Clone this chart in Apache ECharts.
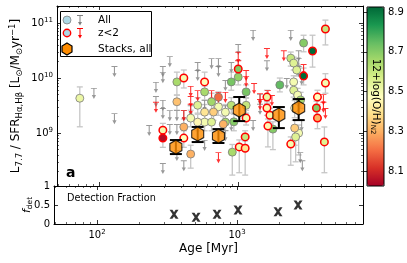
<!DOCTYPE html>
<html><head><meta charset="utf-8">
<script src="https://cdn.jsdelivr.net/npm/echarts@6/dist/echarts.min.js"></script>
<style>html,body{margin:0;padding:0;background:#fff}#c{width:407px;height:263px}</style>
</head><body><div id="c"></div>
<script>
const FONT = 'DejaVu Sans';
const X_RANGE = [49.3, 7940];
const Y_RANGE = [1.09e8, 2.04e11];
const Z_RANGE = [8.025, 8.925];
const fracTicks = [0, 0.5, 1];
const cbarTicks = [8.1, 8.3, 8.5, 8.7, 8.9];
const cmapRdYlGn = ['#a50026','#d73027','#f46d43','#fdae61','#fee08b','#ffffbf','#d9ef8b','#a6d96a','#66bd63','#1a9850','#006837'];

// upper limits, all galaxies: [age Myr, L7.7/SFR]
const limitsAll = [
 [91,6.6e9],[128,1.65e10],[128,2.3e9],[228,1.4e9],[255,8.5e9],[255,4.7e9],[286,1.65e10],[286,1.28e10],
 [286,4.0e9],[286,2.85e9],[286,2.85e8],[321,2.5e10],[321,2.6e9],[361,2.6e9],[405,2.6e9],[510,1.95e10],
 [510,1.4e10],[572,4.0e9],[642,2.3e10],[720,2.3e10],[720,1.65e10],[808,9.2e9],[891,1.95e10],[1000,4.15e10],
 [1280,7.5e10],[1280,1.72e9],[1436,5.1e9],[1611,2.1e10],[2392,7.5e10],[2728,3.2e10],[2728,2.3e10],[2728,1.65e10],
 [2866,1.18e10],[2239,1.0e10],[361,1.46e9],[321,1.46e9],[454,3.2e9],[808,3.2e9],[361,4.9e8],[405,3.2e8],
 [572,7.5e8],[808,1.13e9],[891,1.72e9],[1436,3.4e9],[2866,1.72e9],[2800,4.5e8],[2900,3.2e8]
];
// upper limits, z<2
const limitsZ2 = [
 [255,3.7e9],[454,7.2e9],[454,4.7e9],[510,6.0e9],[642,6.0e9],[1000,3.0e10],[1000,2.1e10],[1140,1.4e10],
 [1140,1.09e10],[1301,8.1e9],[1436,5.3e9],[1436,4.15e9],[1611,3.5e10],[1637,6.0e9],[1749,4.9e9],[2132,3.2e10],
 [720,5.6e9],[808,5.6e9],[2960,1.8e10],[4115,5.1e9],[4115,3.7e9],[720,4.5e8],[4254,2.85e9],[405,2.6e9],[454,3.4e9]
];
// detections: [age, L7.7/SFR, 12+log(O/H), err low, err high]
const pointsAll = [
 [72,4.3e9,8.52,1.3e9,6.9e9],[361,8.5e9,8.65,4.9e9,1.28e10],[572,5.6e9,8.65,4.0e9,7.2e9],[361,3.7e9,8.33,2.6e9,4.9e9],
 [642,3.7e9,8.66,2.6e9,5.3e9],[720,4.5e9,8.2,3.4e9,5.6e9],[720,3.0e9,8.5,2.1e9,4.0e9],[891,8.5e9,8.72,6.0e9,1.28e10],
 [1000,1.04e10,8.68,7.5e9,1.4e10],[1140,5.6e9,8.72,4.3e9,7.5e9],[2960,4.33e10,8.7,3.0e10,6.0e10],[2392,2.3e10,8.6,1.65e10,2.97e10],
 [2512,1.87e10,8.55,1.4e10,2.4e10],[2640,1.4e10,8.55,1.09e10,1.8e10],[1995,7.5e9,8.75,5.6e9,1.0e10],[2512,8.5e9,8.5,6.3e9,1.1e10],
 [2512,6.0e9,8.55,4.5e9,8.0e9],[2683,4.9e9,8.5,3.4e9,6.5e9],[2818,4.0e9,8.65,2.8e9,5.5e9],[2553,2.85e9,8.45,1.9e9,3.9e9],
 [405,1.29e9,8.3,8.0e8,1.8e9],[454,4.15e8,8.3,2.3e8,6.0e8],[572,1.58e9,8.5,1.1e9,2.2e9],[642,1.58e9,8.55,1.1e9,2.2e9],
 [663,2.41e9,8.35,1.7e9,3.3e9],[906,4.5e8,8.65,1.72e8,6.2e8],[1778,1.18e9,8.7,5.0e8,1.6e9],[2728,1.0e9,8.5,4.0e8,1.4e9],
 [2594,8.5e8,8.55,3.0e8,1.2e9],[2553,1.23e9,8.35,6.0e8,1.7e9],[454,1.87e9,8.5,1.3e9,2.6e9],[510,1.58e9,8.45,1.1e9,2.2e9],
 [808,2.4e9,8.5,1.7e9,3.3e9],[891,3.2e9,8.62,2.3e9,4.4e9],[808,1.58e9,8.65,1.1e9,2.2e9],[1140,3.2e9,8.6,2.3e9,4.4e9],
 [510,3.2e9,8.55,2.3e9,4.4e9],[572,2.4e9,8.4,1.7e9,3.3e9],[780,1.45e9,8.3,1.0e9,2.0e9],[930,1.6e9,8.7,1.1e9,2.2e9]
];
const pointsZ2 = [
 [405,1.0e10,8.5,6.6e9,1.4e10],[572,8.5e9,8.48,5.6e9,1.28e10],[1000,1.46e10,8.7,1.0e10,2.1e10],[1140,1.87e9,8.5,1.4e9,2.6e9],
 [1611,4.5e9,8.52,3.4e9,6.0e9],[1611,2.85e9,8.45,2.1e9,3.7e9],[3434,3.1e10,8.92,1.58e10,6.0e10],[4254,7.8e10,8.6,4.0e10,1.13e11],
 [2960,1.09e10,8.92,7.5e9,1.52e10],[4254,8.1e9,8.5,5.3e9,1.2e10],[3727,4.5e9,8.47,3.3e9,6.0e9],[3664,2.85e9,8.7,2.1e9,3.8e9],
 [3727,1.87e9,8.3,1.2e9,2.5e9],[286,1.13e9,8.5,8.0e8,1.5e9],[286,8.1e8,8.05,5.5e8,1.1e9],[405,8.1e8,8.48,5.5e8,1.1e9],
 [1017,5.6e8,8.5,1.9e8,7.5e8],[1122,5.3e8,8.4,1.72e8,7.2e8],[1122,8.5e8,8.6,6.0e8,1.1e9],[1637,1.34e9,8.45,5.6e8,1.8e9],
 [1693,2.1e9,8.5,1.5e9,2.8e9],[2392,6.3e8,8.5,2.6e8,8.5e8],[4182,6.9e8,8.55,1.9e8,1.29e9]
];
// stacks
const stackAge = [355, 510, 720, 1017, 1963, 2728];
const stackVal = [5.56e8, 9.6e8, 8.8e8, 2.62e9, 2.13e9, 2.85e9];
const stackLo  = [4.15e8, 6.86e8, 6.6e8, 1.65e9, 1.23e9, 1.72e9];
const stackHi  = [7.46e8, 1.29e9, 1.18e9, 4.52e9, 2.97e9, 4.15e9];
// detection fraction
const detAge  = [355, 510, 720, 1017, 1963, 2728];
const detFrac = [0.255, 0.176, 0.255, 0.368, 0.32, 0.5];

const ARROW = 'path://M0,0 L10,0 L10,1.6 L5.9,1.6 L5.9,13 L8.5,13 L5,20 L1.5,13 L4.1,13 L4.1,1.6 L0,1.6 Z';
const HEX = 'path://M0,-10 L8.66,-5 L8.66,5 L0,10 L-8.66,5 L-8.66,-5 Z';
const XMARK = 'path://M0,0 L3.2,0 L5,2.6 L6.8,0 L10,0 L6.6,5 L10,10 L6.8,10 L5,7.4 L3.2,10 L0,10 L3.4,5 Z';

function errRender(color, width, cap) {
  return function (params, api) {
    const x = api.value(0), lo = api.value(1), hi = api.value(2);
    const a = api.coord([x, lo]), b = api.coord([x, hi]);
    const st = {stroke: color, lineWidth: width, fill: null};
    return {type: 'group', children: [
      {type: 'line', shape: {x1: a[0], y1: a[1], x2: b[0], y2: b[1]}, style: st},
      {type: 'line', shape: {x1: a[0]-cap, y1: a[1], x2: a[0]+cap, y2: a[1]}, style: st},
      {type: 'line', shape: {x1: b[0]-cap, y1: b[1], x2: b[0]+cap, y2: b[1]}, style: st}
    ]};
  };
}
const supRich = {sup: {fontSize: 7, verticalAlign: 'top', lineHeight: 7, fontFamily: FONT, color: '#000'}};
function powLabel(v) {
  const e = Math.log10(v);
  if (Math.abs(e - Math.round(e)) > 1e-6) return '';
  return '10{sup|' + Math.round(e) + '}';
}
const tickStyle = {show: true, inside: true, length: 4, lineStyle: {color: '#000', width: 0.8}};
const minorStyle = {show: true, splitNumber: 9, length: 2, lineStyle: {color: '#000', width: 0.6}};
const lineStyle = {show: true, onZero: false, lineStyle: {color: '#000', width: 1}};
function logAxis(gridIndex, position, range, label) {
  return {type: 'log', logBase: 10, gridIndex, position, min: range[0], max: range[1],
    axisLine: lineStyle, axisTick: tickStyle, minorTick: minorStyle,
    splitLine: {show: false}, minorSplitLine: {show: false},
    axisLabel: label ? Object.assign({show: true, formatter: powLabel, color: '#000', fontSize: 10,
      fontFamily: FONT, lineHeight: 13, rich: supRich}, label) : {show: false}};
}

const xAxes = [
  logAxis(0, 'bottom', X_RANGE, null),
  logAxis(0, 'top', X_RANGE, null),
  Object.assign(logAxis(1, 'bottom', X_RANGE, {margin: 5}), {name: 'Age [Myr]', nameLocation: 'middle', nameGap: 19,
    nameMoveOverlap: false,
    nameTextStyle: {fontSize: 12, fontFamily: FONT, color: '#000'}}),
  logAxis(1, 'top', X_RANGE, null),
  {type: 'value', gridIndex: 2, show: false, min: 0, max: 1}
];
const yAxes = [
  Object.assign(logAxis(0, 'left', Y_RANGE, {margin: 4}), {
    name: 'L{sub|7.7} / SFR{sub|Hα,Hβ} [L{sub|⊙}/M{sub|⊙}yr{sup|−1}]', nameLocation: 'middle', nameGap: 33,
    nameMoveOverlap: false,
    nameTextStyle: {fontSize: 12, fontFamily: FONT, color: '#000', lineHeight: 16, rich: {
      sub: {fontSize: 8.5, verticalAlign: 'bottom', lineHeight: 9, fontFamily: FONT, color: '#000'},
      sup: {fontSize: 8.5, verticalAlign: 'top', lineHeight: 9, fontFamily: FONT, color: '#000'}}}}),
  logAxis(0, 'right', Y_RANGE, null),
  {type: 'value', gridIndex: 1, position: 'left', min: 0, max: 1, interval: 0.5,
    axisLine: lineStyle, axisTick: tickStyle, splitLine: {show: false},
    axisLabel: {show: true, margin: 4, fontSize: 10, fontFamily: FONT, color: '#000', showMinLabel: true, showMaxLabel: true},
    name: '{i|f}{sub|det}', nameLocation: 'middle', nameGap: 20, nameMoveOverlap: false,
    nameTextStyle: {fontSize: 11, fontFamily: FONT, color: '#000', lineHeight: 14, rich: {
      i: {fontSize: 11, fontStyle: 'italic', fontFamily: FONT, color: '#000'},
      sub: {fontSize: 7.5, verticalAlign: 'bottom', lineHeight: 8, fontFamily: FONT, color: '#000'}}}},
  {type: 'value', gridIndex: 1, position: 'right', min: 0, max: 1, interval: 0.5,
    axisLine: lineStyle, axisTick: tickStyle, splitLine: {show: false}, axisLabel: {show: false}},
  {type: 'value', gridIndex: 2, position: 'right', min: Z_RANGE[0], max: Z_RANGE[1], z: 20,
    axisLine: {show: false}, splitLine: {show: false},
    axisTick: {show: true, inside: true, length: 3, customValues: cbarTicks, lineStyle: {color: '#000', width: 0.8}},
    axisLabel: {show: true, customValues: cbarTicks, margin: 4, fontSize: 10, fontFamily: FONT, color: '#000',
      align: 'left', verticalAlign: 'middle', formatter: v => Number(v).toFixed(1)},
    name: '12+log(O/H){sub|N2}', nameLocation: 'middle', nameGap: -15, nameRotate: -90, nameMoveOverlap: false,
    nameTextStyle: {fontSize: 10.5, fontFamily: FONT, color: '#000', lineHeight: 13, rich: {
      sub: {fontSize: 7, verticalAlign: 'bottom', lineHeight: 7, fontFamily: FONT, color: '#000'}}}}
];

function legendArrow(cx, top, color) {
  return [
    {type: 'line', shape: {x1: cx-3, y1: top, x2: cx+3, y2: top}, style: {stroke: color, lineWidth: 1}, z: 101},
    {type: 'line', shape: {x1: cx, y1: top, x2: cx, y2: top+7}, style: {stroke: color, lineWidth: 1}, z: 101},
    {type: 'polygon', shape: {points: [[cx-2, top+6.5], [cx+2, top+6.5], [cx, top+10]]}, style: {fill: color}, z: 101}
  ];
}
const txt = (x, y, s, extra) => ({type: 'text', x, y, z: 101,
  style: Object.assign({text: s, fontSize: 10, fontFamily: FONT, fill: '#000', verticalAlign: 'middle'}, extra || {})});

const graphic = [
  {type: 'rect', shape: {x: 60.5, y: 11.5, width: 91, height: 45}, style: {fill: '#fff', stroke: '#000', lineWidth: 1}, z: 100},
  {type: 'circle', shape: {cx: 67, cy: 20, r: 4}, style: {fill: '#add8e6', stroke: '#808080', lineWidth: 0.8}, z: 101},
  ...legendArrow(80, 15.5, '#808080'),
  txt(98, 20.5, 'All', {fontSize: 10.5}),
  {type: 'circle', shape: {cx: 67, cy: 33, r: 3.7}, style: {fill: '#add8e6', stroke: '#ff0000', lineWidth: 1.4}, z: 101},
  ...legendArrow(80, 28.5, '#ff0000'),
  txt(98, 33, 'z<2', {fontSize: 10.5}),
  {type: 'polygon', shape: {points: [[67,43],[72,46],[72,52],[67,55],[62,52],[62,46]]},
    style: {fill: '#ff8c00', stroke: '#000', lineWidth: 1.2}, z: 101},
  txt(98, 49, 'Stacks, all', {fontSize: 10.5}),
  txt(66, 173, 'a', {fontSize: 14, fontWeight: 'bold'}),
  txt(67, 198, 'Detection Fraction', {fontSize: 9.7})
];

const option = {
  animation: false,
  textStyle: {fontFamily: FONT},
  grid: [
    {left: 54, top: 6, width: 309, height: 180},
    {left: 54, top: 186, width: 309, height: 38},
    {left: 367, top: 7, width: 17, height: 179, show: true, borderColor: '#000', borderWidth: 1, z: 10, backgroundColor: 'transparent'}
  ],
  xAxis: xAxes,
  yAxis: yAxes,
  visualMap: {type: 'continuous', min: Z_RANGE[0], max: Z_RANGE[1], dimension: 2, seriesIndex: [4, 5],
    inRange: {color: cmapRdYlGn}, calculable: false, hoverLink: false, left: 367, top: 7, z: 2,
    itemWidth: 17, itemHeight: 179, padding: 0, text: null, show: true},
  graphic: graphic,
  series: [
    {type: 'custom', xAxisIndex: 0, yAxisIndex: 0, renderItem: errRender('#c6c6c6', 1.3, 3), z: 1, silent: true,
      encode: {x: 0, y: [1, 2]}, data: pointsAll.map(p => [p[0], p[3], p[4]]), clip: true},
    {type: 'custom', xAxisIndex: 0, yAxisIndex: 0, renderItem: errRender('#c6c6c6', 1.3, 3), z: 1, silent: true,
      encode: {x: 0, y: [1, 2]}, data: pointsZ2.map(p => [p[0], p[3], p[4]]), clip: true},
    {type: 'scatter', xAxisIndex: 0, yAxisIndex: 0, symbol: ARROW, symbolSize: [6, 11], symbolOffset: [0, '50%'],
      itemStyle: {color: '#808080'}, z: 2, silent: true, data: limitsAll},
    {type: 'scatter', xAxisIndex: 0, yAxisIndex: 0, symbol: ARROW, symbolSize: [6, 11], symbolOffset: [0, '50%'],
      itemStyle: {color: '#ff0000'}, z: 2, silent: true, data: limitsZ2},
    {type: 'scatter', xAxisIndex: 0, yAxisIndex: 0, symbol: 'circle', symbolSize: 8,
      itemStyle: {borderColor: '#7a7a7a', borderWidth: 0.8, opacity: 1}, z: 3, silent: true,
      data: pointsAll.map(p => [p[0], p[1], p[2]])},
    {type: 'scatter', xAxisIndex: 0, yAxisIndex: 0, symbol: 'circle', symbolSize: 7.5,
      itemStyle: {borderColor: '#ff0000', borderWidth: 1.5, opacity: 1}, z: 3, silent: true,
      data: pointsZ2.map(p => [p[0], p[1], p[2]])},
    {type: 'custom', xAxisIndex: 0, yAxisIndex: 0, renderItem: errRender('#000', 2, 6), z: 4, silent: true,
      encode: {x: 0, y: [1, 2]}, data: stackAge.map((a, i) => [a, stackLo[i], stackHi[i]])},
    {type: 'scatter', xAxisIndex: 0, yAxisIndex: 0, symbol: HEX, symbolSize: [12, 14],
      itemStyle: {color: '#ff8c00', borderColor: '#000', borderWidth: 1.2}, z: 5, silent: true,
      data: stackAge.map((a, i) => [a, stackVal[i]])},
    {type: 'scatter', xAxisIndex: 2, yAxisIndex: 2, symbol: XMARK, symbolSize: 9,
      itemStyle: {color: '#000'}, z: 5, silent: true,
      data: detAge.map((a, i) => [a, detFrac[i]])}
  ]
};
const chart = echarts.init(document.getElementById('c'), null, {renderer: 'canvas'});
chart.setOption(option);
</script></body></html>
